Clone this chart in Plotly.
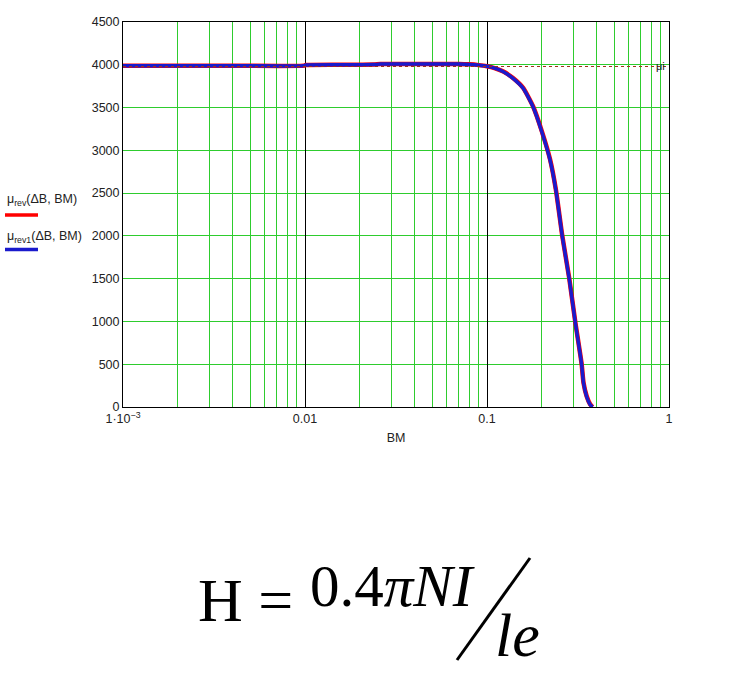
import plotly.graph_objects as go

# ---- data ----
bm = [0.001, 0.003, 0.0099, 0.0101, 0.02, 0.024, 0.026, 0.05, 0.07, 0.08, 0.09, 0.1,
      0.11, 0.123, 0.139, 0.158, 0.179, 0.2, 0.222, 0.239, 0.259, 0.283, 0.305,
      0.331, 0.339, 0.353, 0.368, 0.38]
mu_rev = [3990, 3990, 3990, 3998, 4001, 4003, 4009, 4010, 4010, 4005, 3996, 3983,
          3962, 3921, 3845, 3730, 3515, 3225, 2895, 2540, 2005, 1505, 1005,
          505, 285, 125, 35, 0]
mu_rev1 = [3990, 3990, 3990, 3997, 4000, 4002, 4008, 4009, 4009, 4004, 3995, 3982,
           3960, 3919, 3841, 3725, 3510, 3218, 2887, 2536, 2000, 1500, 1000,
           500, 280, 120, 30, 0]
mu_i = 3980
mu_i_x = [0.001, 1]

x_decades = [0.01, 0.1]
x_grid = [m * d for d in (0.001, 0.01, 0.1) for m in range(1, 10)] + [1]
x_grid_text = ["1·10<sup>−3</sup>" if v == 0.001 else
               ("0.01" if abs(v - 0.01) < 1e-12 else
                ("0.1" if abs(v - 0.1) < 1e-12 else ("1" if v == 1 else "")))
               for v in x_grid]

GREEN = "#2ecc2e"

fig = go.Figure()
fig.add_trace(go.Scatter(x=mu_i_x, y=[mu_i, mu_i], mode="lines", xaxis="x2",
                         line=dict(color="#a0301a", width=1, dash="3px,3px"),
                         showlegend=False, hoverinfo="skip"))
fig.add_trace(go.Scatter(x=bm, y=mu_rev, mode="lines",
                         line=dict(color="#ff0000", width=4.5, shape="spline",
                                   smoothing=0.5), showlegend=False))
fig.add_trace(go.Scatter(x=bm, y=mu_rev1, mode="lines",
                         line=dict(color="#1a1acc", width=3.5, shape="spline",
                                   smoothing=0.5), showlegend=False))

W, H = 756, 673
L, R, T, B = 123, 669, 22, 407


def px(x):
    return (x - L) / (R - L)


def py(y):
    return (B - y) / (B - T)


fig.update_layout(
    width=W, height=H,
    margin=dict(l=L, r=W - R, t=T, b=H - B),
    paper_bgcolor="white", plot_bgcolor="white",
    font=dict(family="Liberation Sans, Arial, sans-serif", size=12.5, color="#222"),
    xaxis=dict(type="log", range=[-3, 0], tickmode="array", tickvals=x_grid,
               ticktext=x_grid_text, showgrid=True, gridcolor=GREEN, gridwidth=1,
               showline=True, linecolor="black", linewidth=1, mirror=True,
               ticks="", zeroline=False,
               title=dict(text="BM", standoff=8, font=dict(size=12.5))),
    xaxis2=dict(type="log", range=[-3, 0], overlaying="x", side="bottom",
                tickmode="array", tickvals=x_decades, showticklabels=False,
                showgrid=True, gridcolor="black", gridwidth=1, showline=False,
                ticks="", zeroline=False),
    yaxis=dict(range=[0, 4500], dtick=500, tick0=0, showgrid=True, gridcolor=GREEN,
               gridwidth=1, showline=True, linecolor="black", linewidth=1, mirror=True,
               ticks="", zeroline=False),
    showlegend=False,
)

ann = []
ann.append(dict(x=px(5), y=py(200), xref="paper", yref="paper", xanchor="left",
                yanchor="middle", showarrow=False,
                text="μ<sub>rev</sub>(ΔB, BM)", font=dict(size=12.5, color="#222")))
ann.append(dict(x=px(5), y=py(237), xref="paper", yref="paper", xanchor="left",
                yanchor="middle", showarrow=False,
                text="μ<sub>rev1</sub>(ΔB, BM)", font=dict(size=12.5, color="#222")))
ann.append(dict(x=px(654), y=mu_i, xref="paper", yref="y", xanchor="left",
                yanchor="middle", showarrow=False, text="μi",
                font=dict(size=11, color="#222")))
serif = "Liberation Serif, Times New Roman, serif"
ann.append(dict(x=px(196), y=py(636), xref="paper", yref="paper", xanchor="left",
                yanchor="bottom", showarrow=False, text="H =",
                font=dict(family=serif, size=62, color="black")))
ann.append(dict(x=px(308), y=py(621), xref="paper", yref="paper", xanchor="left",
                yanchor="bottom", showarrow=False, text="0.4<i>πNI</i>",
                font=dict(family=serif, size=59, color="black")))
ann.append(dict(x=px(493), y=py(671), xref="paper", yref="paper", xanchor="left",
                yanchor="bottom", showarrow=False, text="<i>le</i>",
                font=dict(family=serif, size=62, color="black")))

shapes = [
    dict(type="line", xref="paper", yref="paper", x0=px(5), x1=px(38),
         y0=py(215), y1=py(215), line=dict(color="#ff0000", width=3.5)),
    dict(type="line", xref="paper", yref="paper", x0=px(5), x1=px(38),
         y0=py(249.5), y1=py(249.5), line=dict(color="#1a1acc", width=3.5)),
    dict(type="line", xref="paper", yref="paper", x0=px(457), x1=px(530),
         y0=py(660), y1=py(558), line=dict(color="black", width=3)),
]

fig.update_layout(annotations=ann, shapes=shapes)
fig.write_html("out.html", config={"displayModeBar": False},
               post_script="document.body.style.margin='0';"
                           "document.body.style.overflow='hidden';")
